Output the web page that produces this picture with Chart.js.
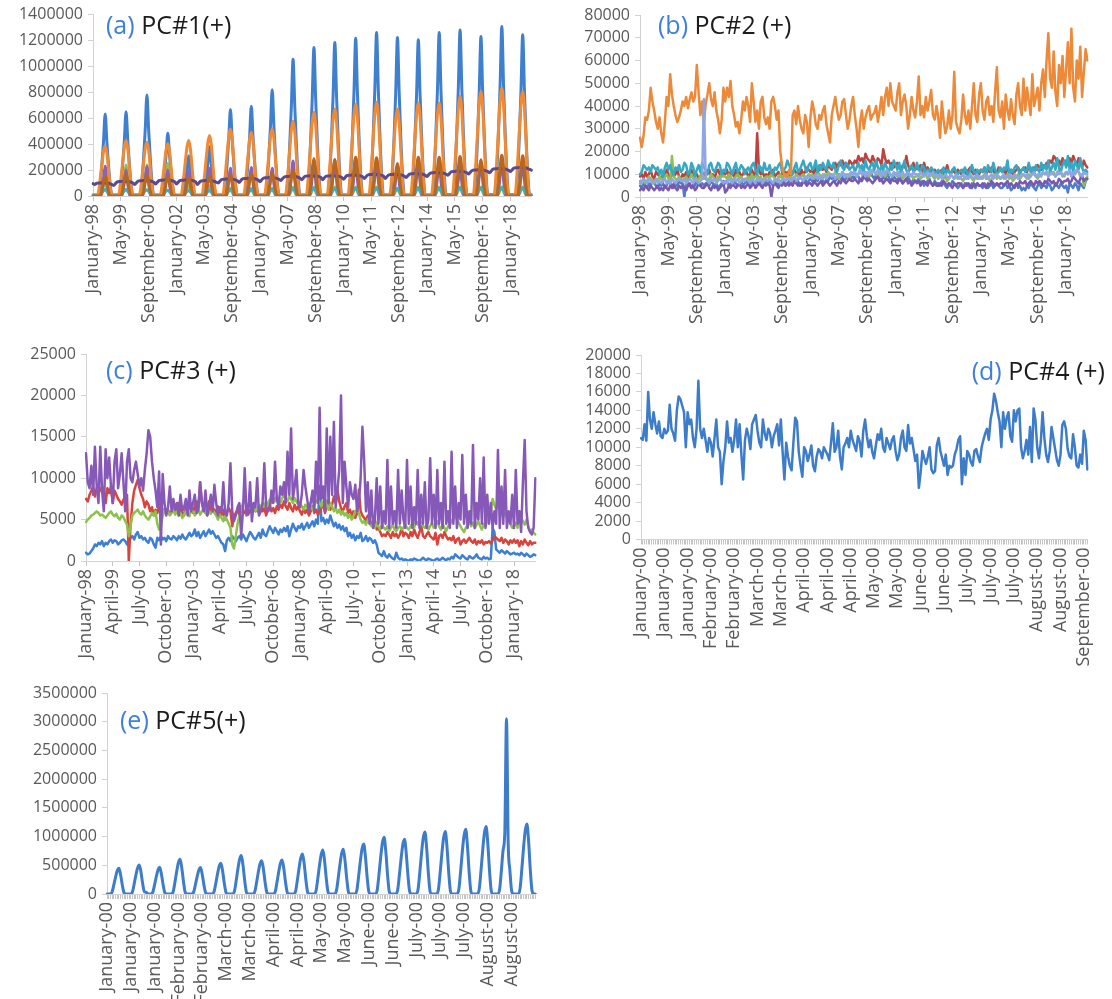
<!DOCTYPE html>
<html>
<head>
<meta charset="utf-8">
<script src="https://cdn.jsdelivr.net/npm/chart.js@4.4.1/dist/chart.umd.min.js"></script>
<style>
  body { margin: 0; background: #fff; width: 1112px; height: 999px; position: relative; overflow: hidden; font-family: 'Open Sans', sans-serif; }
  canvas { position: absolute; }
  .ttl { position: absolute; font-size: 25px; line-height: 25px; color: #1c1c1c; white-space: pre; }
  .ttl b { font-weight: normal; color: #3d7fdb; }
</style>
</head>
<body>
<canvas id="pa" width="556" height="335" style="left:0;top:0"></canvas>
<canvas id="pb" width="556" height="335" style="left:556px;top:0"></canvas>
<canvas id="pc" width="560" height="337" style="left:0;top:338px"></canvas>
<canvas id="pd" width="556" height="342" style="left:556px;top:338px"></canvas>
<canvas id="pe" width="560" height="321" style="left:0;top:678px"></canvas>

<div class="ttl" style="left:106px;top:12px"><b>(a)</b> PC#1(+)</div>
<div class="ttl" style="left:658px;top:12px"><b>(b)</b> PC#2 (+)</div>
<div class="ttl" style="left:106px;top:357px"><b>(c)</b> PC#3 (+)</div>
<div class="ttl" style="right:7px;top:358px"><b>(d)</b> PC#4 (+)</div>
<div class="ttl" style="left:120px;top:707px"><b>(e)</b> PC#5(+)</div>

<script>
// tick labels shown under each panel (one every `step` points)
const ticksAB = ['January-98', 'May-99', 'September-00', 'January-02', 'May-03', 'September-04', 'January-06', 'May-07',
  'September-08', 'January-10', 'May-11', 'September-12', 'January-14', 'May-15', 'September-16', 'January-18'];
const ticksC = ['January-98', 'April-99', 'July-00', 'October-01', 'January-03', 'April-04', 'July-05', 'October-06',
  'January-08', 'April-09', 'July-10', 'October-11', 'January-13', 'April-14', 'July-15', 'October-16', 'January-18'];
const ticksD = ['January-00', 'January-00', 'January-00', 'February-00', 'February-00', 'March-00', 'March-00', 'April-00',
  'April-00', 'April-00', 'May-00', 'May-00', 'June-00', 'June-00', 'July-00', 'July-00', 'July-00', 'August-00',
  'August-00', 'September-00'];
const ticksE = ['January-00', 'January-00', 'January-00', 'February-00', 'February-00', 'March-00', 'March-00', 'April-00',
  'April-00', 'May-00', 'May-00', 'June-00', 'June-00', 'July-00', 'July-00', 'July-00', 'August-00', 'August-00'];

// (a) PC#1, monthly Jan 1998 - Jan 2019, thousands
const pc1Blue = [
  0,0,0,0,76,222,411,633,411,222,76,0,
  0,0,0,0,78,228,423,651,423,228,78,0,
  0,0,0,0,93,273,506,779,506,273,93,0,
  0,0,0,0,58,170,315,485,315,170,58,0,
  0,0,0,0,37,109,202,310,202,109,37,0,
  0,0,0,0,46,133,247,380,247,133,46,0,
  0,0,0,0,80,233,434,667,434,233,80,0,
  0,0,0,0,83,242,450,692,450,242,83,0,
  0,0,0,0,98,287,533,820,533,287,98,0,
  0,0,0,0,127,370,686,1056,686,370,127,0,
  0,0,0,0,138,401,745,1146,745,401,138,0,
  0,0,0,0,142,415,770,1185,770,415,142,0,
  0,0,0,0,146,426,792,1218,792,426,146,0,
  0,0,0,0,151,442,820,1262,820,442,151,0,
  0,0,0,0,147,428,795,1223,795,428,147,0,
  0,0,0,0,145,422,783,1205,783,422,145,0,
  0,0,0,0,151,442,820,1262,820,442,151,0,
  0,0,0,0,154,449,833,1282,833,449,154,0,
  0,0,0,0,148,431,800,1231,800,431,148,0,
  0,0,0,0,157,458,850,1308,850,458,157,0,
  0,0,0,0,149,435,809,1244,809,435,149,0,
  0];
const pc1Orange = [
  0,0,0,19,116,231,339,385,327,193,58,0,
  0,0,0,21,128,257,377,428,364,214,64,0,
  0,0,0,21,125,249,365,415,353,208,62,0,
  0,0,0,20,121,242,355,403,343,202,60,0,
  0,0,0,21,128,257,377,428,364,214,64,0,
  0,0,0,23,140,280,411,467,397,234,70,0,
  0,0,0,26,155,311,456,518,440,259,78,0,
  0,0,0,25,148,295,433,492,418,246,74,0,
  0,0,0,26,155,311,456,518,440,259,78,0,
  0,0,0,29,173,346,508,577,490,289,87,0,
  0,0,0,32,194,388,568,646,549,323,97,0,
  0,0,0,34,202,403,591,672,571,336,101,0,
  0,0,0,36,213,426,625,710,604,355,107,0,
  0,0,0,36,217,434,636,723,615,362,108,0,
  0,0,0,34,202,403,591,672,571,336,101,0,
  0,0,0,36,215,431,632,718,610,359,108,0,
  0,0,0,36,215,431,632,718,610,359,108,0,
  0,0,0,39,231,462,678,770,655,385,116,0,
  0,0,0,40,242,483,708,805,684,403,121,0,
  0,0,0,42,249,499,731,831,706,416,125,0,
  0,0,0,40,242,483,708,805,684,403,121,0,
  0];
const pc1Indigo = [
  95,88,97,100,100,102,100,100,100,98,94,88,
  82,97,109,112,112,114,112,112,112,110,106,100,
  88,103,115,118,118,120,118,118,118,116,112,106,
  92,107,119,122,122,124,122,122,122,120,116,110,
  92,107,119,122,122,124,122,122,122,120,116,110,
  88,103,115,118,118,120,118,118,118,116,112,106,
  100,115,127,130,130,132,130,130,130,128,124,118,
  105,120,132,135,135,137,135,135,135,133,129,123,
  110,125,137,140,140,142,140,140,140,138,134,128,
  120,135,147,150,150,152,150,150,150,148,144,138,
  125,140,152,155,155,157,155,155,155,153,149,143,
  125,140,152,155,155,157,155,155,155,153,149,143,
  130,145,157,160,160,162,160,160,160,158,154,148,
  135,150,162,165,165,167,165,165,165,163,159,153,
  135,150,162,165,165,167,165,165,165,163,159,153,
  142,157,169,172,172,174,172,172,172,170,166,160,
  150,165,177,180,180,182,180,180,180,178,174,168,
  160,175,187,190,190,192,190,190,190,188,184,178,
  170,185,197,200,200,202,200,200,200,198,194,188,
  180,195,207,210,210,212,210,210,210,208,204,198,
  188,203,215,218,218,220,218,218,218,216,212,206,
  200];
const pc1Purple = [
  0,0,0,0,0,25,125,230,105,10,0,0,
  0,0,0,0,0,20,110,200,90,10,0,0,
  0,0,0,0,0,25,125,225,100,10,0,0,
  0,0,0,0,0,20,110,200,90,10,0,0,
  0,0,0,0,0,20,110,200,90,10,0,0,
  0,0,0,0,0,20,120,215,95,10,0,0,
  0,0,0,0,0,20,120,215,95,10,0,0,
  0,0,0,0,0,20,120,220,100,10,0,0,
  0,0,0,0,0,20,120,215,95,10,0,0,
  0,0,0,0,0,25,150,270,120,15,0,0,
  0,0,0,0,0,25,145,260,115,15,0,0,
  0,0,0,0,0,30,155,280,125,15,0,0,
  0,0,0,0,0,30,160,290,130,15,0,0,
  0,0,0,0,0,25,150,270,120,15,0,0,
  0,0,0,0,0,25,130,240,110,10,0,0,
  0,0,0,0,0,25,140,250,110,10,0,0,
  0,0,0,0,0,25,145,260,115,15,0,0,
  0,0,0,0,0,25,125,230,105,10,0,0,
  0,0,0,0,0,25,150,270,120,15,0,0,
  0,0,0,0,0,30,155,280,125,15,0,0,
  0,0,0,0,0,25,150,270,120,15,0,0,
  0];
const pc1Brown = [
  0,0,0,0,0,30,105,150,105,30,0,0,
  0,0,0,0,0,35,120,170,120,35,0,0,
  0,0,0,0,0,30,110,160,110,30,0,0,
  0,0,0,0,0,30,105,150,105,30,0,0,
  0,0,0,0,0,30,100,140,100,30,0,0,
  0,0,0,0,0,30,105,150,105,30,0,0,
  0,0,0,0,0,30,110,160,110,30,0,0,
  0,0,0,0,0,35,120,170,120,35,0,0,
  0,0,0,0,0,35,125,180,125,35,0,0,
  0,0,0,0,0,40,140,200,140,40,0,0,
  0,0,0,0,0,60,205,290,205,60,0,0,
  0,0,0,0,0,55,195,280,195,55,0,0,
  0,0,0,0,0,60,210,300,210,60,0,0,
  0,0,0,0,0,60,205,295,205,60,0,0,
  0,0,0,0,0,50,175,250,175,50,0,0,
  0,0,0,0,0,60,210,300,210,60,0,0,
  0,0,0,0,0,60,210,300,210,60,0,0,
  0,0,0,0,0,60,215,305,215,60,0,0,
  0,0,0,0,0,55,195,280,195,55,0,0,
  0,0,0,0,0,65,220,315,220,65,0,0,
  0,0,0,0,0,60,215,310,215,60,0,0,
  0];
const pc1Teal = [
  10,10,10,10,15,25,40,50,35,20,10,10,
  10,10,10,10,15,25,40,50,35,20,10,10,
  10,10,10,10,15,25,40,48,35,20,10,10,
  10,10,10,10,15,25,38,45,32,18,10,10,
  8,8,8,8,12,22,35,42,30,18,8,8,
  8,8,8,8,12,22,35,42,30,18,8,8,
  10,10,10,10,15,25,40,50,35,20,10,10,
  10,10,10,10,15,25,40,50,35,20,10,10,
  10,10,10,10,15,25,42,52,36,20,10,10,
  10,10,10,12,18,30,45,55,40,20,12,10,
  10,10,10,12,18,30,45,58,40,20,12,10,
  10,10,10,12,18,30,45,58,40,20,12,10,
  10,10,10,12,18,30,48,60,42,22,12,10,
  10,10,10,12,18,30,48,60,42,22,12,10,
  10,10,10,12,18,30,45,55,40,20,12,10,
  10,10,10,12,18,30,48,60,42,22,12,10,
  10,10,10,12,18,30,48,60,42,22,12,10,
  12,12,12,14,20,32,50,62,44,22,12,12,
  12,12,12,14,20,32,50,62,44,22,12,12,
  12,12,12,14,20,32,50,65,45,24,12,12,
  12,12,12,14,20,32,50,62,44,22,12,12,
  12];
const pc1Green = [
  0,0,0,0,0,25,75,120,60,10,0,0,
  0,0,0,0,0,50,145,240,120,25,0,0,
  0,0,0,0,0,50,145,240,120,25,0,0,
  0,0,0,0,0,50,150,250,125,25,0,0,
  0,0,0,0,0,20,60,100,50,10,0,0,
  0,0,0,0,0,15,50,80,40,10,0,0,
  0,0,0,0,0,15,40,60,30,5,0,0,
  0,0,0,0,0,15,40,60,30,5,0,0,
  0,0,0,0,0,15,40,60,30,5,0,0,
  0,0,0,0,0,15,45,70,35,5,0,0,
  0,0,0,0,0,15,45,70,35,5,0,0,
  0,0,0,0,0,15,45,70,35,5,0,0,
  0,0,0,0,0,15,45,70,35,5,0,0,
  0,0,0,0,0,15,45,70,35,5,0,0,
  0,0,0,0,0,15,40,60,30,5,0,0,
  0,0,0,0,0,15,45,70,35,5,0,0,
  0,0,0,0,0,15,45,70,35,5,0,0,
  0,0,0,0,0,15,45,70,35,5,0,0,
  0,0,0,0,0,15,45,70,35,5,0,0,
  0,0,0,0,0,15,45,70,35,5,0,0,
  0,0,0,0,0,15,45,70,35,5,0,0,
  0];

// (b) PC#2, monthly Jan 1998 - Jan 2019, thousands
const pc2Orange = [
  26,22,27,35,34,38,48,42,38,33,30,35,
  28,24,33,44,40,54,45,40,36,33,35,38,
  42,40,44,39,43,46,42,44,58,46,36,42,
  32,41,45,50,43,40,46,38,34,28,34,48,
  42,48,44,51,40,36,31,33,28,34,42,38,
  44,40,33,50,42,33,38,30,42,44,35,32,
  35,30,42,44,40,34,38,20,14,10,9,8,
  12,10,36,38,32,40,34,30,28,36,33,22,
  35,42,38,32,30,36,34,38,40,32,28,24,
  36,40,44,38,34,36,42,43,36,30,34,40,
  44,36,30,22,33,38,30,35,38,40,34,36,
  37,40,33,38,44,36,44,48,40,50,42,40,
  38,46,50,36,42,45,40,30,36,44,38,35,
  42,53,36,40,35,44,38,42,47,36,34,40,
  35,26,42,34,28,31,38,30,36,55,33,30,
  28,34,45,36,32,38,30,40,50,36,33,45,
  50,38,34,42,44,36,40,33,46,57,38,35,
  42,30,45,38,34,43,36,32,45,50,40,36,
  52,38,48,42,36,54,40,44,48,38,50,56,
  44,60,72,52,48,64,46,40,58,50,62,44,
  56,68,50,74,48,42,60,52,66,44,55,65,
  60];
const pc2Teal = [
  10,11,14,13,12,13,11,14,13,12,13,10,
  12,9,13,15,12,14,11,10,13,12,14,11,
  12,15,14,10,11,15,13,9,12,14,11,15,
  13,12,10,14,15,12,11,13,15,14,10,12,
  11,15,14,12,10,13,15,11,12,14,13,10,
  12,13,11,14,15,12,10,14,13,11,15,12,
  12,14,11,10,13,12,14,15,11,12,13,16,
  14,12,10,13,15,11,12,14,16,13,11,14,
  15,12,13,16,11,14,12,15,13,12,16,14,
  13,15,12,11,14,16,13,12,15,14,12,13,
  14,11,13,15,12,14,11,16,13,12,14,15,
  12,16,13,11,14,12,15,13,10,14,12,16,
  14,12,15,11,13,16,12,10,13,14,11,12,
  15,12,11,14,13,10,12,11,13,12,10,11,
  12,10,11,13,9,12,11,10,12,13,11,10,
  11,12,10,13,11,9,12,14,11,10,12,11,
  12,11,13,10,14,12,11,15,12,10,11,13,
  11,13,12,16,10,12,11,13,14,12,10,12,
  13,11,12,15,11,13,10,14,12,11,15,12,
  14,12,16,11,13,15,12,17,13,11,14,16,
  13,18,12,15,11,16,14,12,17,13,11,12,
  11];
const pc2Red = [
  9,10,8,11,9,10,12,9,8,11,10,9,
  8,10,9,12,10,8,11,9,10,12,9,8,
  10,9,11,8,10,12,9,11,10,8,9,11,
  9,11,10,12,9,10,8,11,12,10,9,11,
  10,12,9,11,10,9,12,10,11,9,10,12,
  11,9,10,12,10,9,28,12,10,11,9,10,
  9,11,10,12,9,10,11,9,10,12,10,11,
  10,9,11,12,10,11,9,12,10,11,13,12,
  11,12,10,13,11,12,14,12,13,11,14,13,
  12,14,15,13,15,14,16,14,15,13,16,15,
  14,16,15,18,16,17,15,19,17,16,15,18,
  16,15,17,16,14,21,17,15,16,14,15,13,
  14,15,13,12,14,13,18,14,12,13,15,12,
  13,12,14,11,15,12,13,11,12,10,12,11,
  10,11,12,10,11,14,11,10,12,11,10,12,
  11,10,12,11,10,12,13,11,10,12,11,10,
  12,11,13,10,12,11,13,12,10,11,13,12,
  11,12,10,13,11,12,10,11,12,13,11,12,
  12,13,11,14,12,11,13,12,14,13,12,14,
  13,15,14,16,15,18,17,15,16,14,17,15,
  16,14,17,15,18,16,14,17,15,13,16,14,
  13];
const pc2Green = [
  6,7,8,6,7,9,8,7,6,8,7,9,
  8,7,9,10,8,7,18,9,8,7,9,8,
  7,8,9,7,8,10,8,9,7,8,9,10,
  8,9,7,8,10,9,8,7,9,8,10,9,
  9,8,10,9,7,8,9,10,8,9,7,8,
  8,9,7,10,8,9,10,8,9,7,8,9,
  9,8,10,9,8,7,9,10,8,9,10,8,
  8,9,7,8,10,9,8,9,10,8,9,10,
  9,10,8,9,11,10,9,8,10,9,11,10,
  10,9,11,10,8,9,11,10,9,10,8,11,
  10,11,9,10,12,10,9,11,10,9,10,12,
  11,10,9,11,10,12,9,10,11,10,9,10,
  10,9,11,10,8,9,10,11,9,10,8,9,
  9,10,8,9,11,10,8,9,10,9,8,10,
  8,9,10,8,9,7,8,10,9,8,9,8,
  9,8,7,9,8,10,9,8,7,9,8,9,
  8,9,10,8,9,7,8,9,10,8,9,8,
  9,8,9,10,8,9,7,8,9,10,8,9,
  10,9,8,10,9,11,10,9,8,10,9,11,
  10,11,9,12,10,11,9,10,12,11,10,9,
  11,10,12,9,11,10,12,11,9,10,5,8,
  9];
const pc2Purple = [
  3,4,3,5,4,3,5,4,3,4,5,3,
  4,3,5,4,3,5,4,6,4,3,5,4,
  5,4,3,5,6,4,5,3,4,6,5,4,
  4,5,6,4,3,5,4,5,3,4,5,6,
  2,3,5,4,6,5,4,5,6,4,5,4,
  5,6,4,5,6,4,5,6,5,4,6,5,
  6,5,0,5,6,5,4,6,5,6,5,6,
  5,6,5,7,6,5,6,5,7,6,5,6,
  6,5,7,6,5,6,7,5,6,7,6,5,
  6,7,6,5,7,6,8,7,6,7,8,7,
  7,8,7,6,8,7,9,8,7,8,7,6,
  7,8,9,7,8,6,7,8,7,6,8,7,
  7,6,8,7,6,7,8,6,7,5,6,7,
  6,7,5,6,7,6,5,7,6,5,6,5,
  5,6,5,7,6,5,6,5,4,6,5,6,
  6,5,4,6,5,6,5,4,6,5,6,5,
  5,6,5,4,6,5,7,6,5,6,5,6,
  6,5,6,7,5,6,5,4,6,5,7,6,
  6,7,5,6,7,6,5,7,6,7,6,5,
  7,6,8,7,6,7,5,6,8,7,6,7,
  7,8,6,7,9,8,7,6,8,9,7,8,
  8];
const pc2Blue = [
  5,4,6,5,4,6,5,7,6,5,4,6,
  5,6,4,5,7,6,5,4,6,5,7,6,
  6,0,7,6,5,4,6,5,7,6,5,6,
  5,6,6,5,7,6,5,6,4,5,6,7,
  6,7,5,6,5,7,6,5,6,7,5,6,
  7,6,5,7,6,5,8,6,7,5,6,7,
  6,7,6,5,7,6,5,7,6,7,5,6,
  7,6,8,7,6,7,5,6,7,8,6,7,
  8,7,6,8,7,9,8,7,6,8,7,9,
  8,9,7,8,10,8,9,7,8,9,10,8,
  9,8,10,9,7,8,10,9,8,9,11,9,
  8,10,9,8,7,9,8,10,9,7,8,9,
  8,7,9,8,6,7,8,9,7,6,8,7,
  7,8,6,7,5,6,7,8,6,5,7,6,
  6,5,7,6,5,4,6,5,7,6,5,4,
  5,6,4,5,6,5,4,6,5,4,6,5,
  5,4,6,5,4,5,6,4,5,6,5,4,
  4,5,6,4,5,3,4,5,6,4,5,3,
  4,3,5,4,6,5,4,3,5,6,4,5,
  5,4,6,5,3,4,6,5,4,6,5,4,
  5,2,6,5,4,6,5,3,6,5,4,7,
  8];
const pc2Lavender = [
  7,6,8,7,6,8,7,6,7,8,6,7,
  6,7,8,6,7,6,8,7,6,7,8,7,
  7,8,6,7,8,7,6,8,7,6,7,8,
  43,8,7,6,8,7,8,6,7,8,7,6,
  7,6,8,7,6,8,7,8,6,7,8,7,
  8,7,6,8,7,6,8,7,8,6,7,8,
  7,8,7,6,8,7,8,6,7,8,7,8,
  8,7,8,9,7,8,9,8,7,9,8,9,
  9,8,9,10,8,9,8,10,9,8,9,10,
  9,10,8,9,10,9,11,9,10,9,10,11,
  10,11,9,10,12,10,11,9,11,10,12,11,
  11,10,12,11,9,11,10,12,11,10,9,11,
  10,11,9,10,11,9,10,11,10,9,11,10,
  10,9,11,10,9,10,11,9,10,11,9,10,
  9,10,8,9,10,9,8,10,9,8,10,9,
  8,9,10,8,9,8,10,9,8,9,10,8,
  9,8,9,10,8,9,10,8,9,10,9,8,
  9,10,8,9,10,9,8,10,9,8,9,10,
  10,9,10,8,9,10,11,9,10,9,10,11,
  10,11,9,10,11,10,9,11,10,11,9,10,
  11,10,12,9,11,10,12,11,10,9,11,10,
  10];

// (c) PC#3, monthly Jan 1998 - Jan 2019, hundreds
const pc3Purple = [
  130,95,88,115,80,138,90,70,138,85,60,135,
  100,125,90,70,120,135,88,105,130,95,60,120,
  135,100,95,110,120,105,90,100,85,110,130,158,
  150,120,100,85,65,108,20,105,70,55,65,90,
  60,75,62,70,55,80,60,65,75,55,85,60,
  70,80,58,62,95,70,60,85,55,65,80,60,
  92,70,55,65,60,95,58,55,70,118,60,48,
  55,65,70,30,60,112,55,60,95,48,70,65,
  100,55,60,70,118,65,60,62,85,70,120,75,
  65,90,80,95,70,132,80,160,75,90,110,70,
  65,80,110,90,75,60,70,85,60,120,70,185,
  75,90,60,160,70,150,80,168,65,85,110,200,
  70,120,90,65,95,80,75,92,60,70,100,162,
  120,60,95,45,85,40,50,100,45,90,40,60,
  45,122,40,90,45,60,40,110,45,85,50,40,
  122,45,90,40,65,45,110,40,80,45,95,40,
  50,124,45,80,40,110,45,70,40,120,45,60,
  40,132,45,90,40,70,50,128,45,80,40,60,
  45,140,40,70,50,100,45,125,40,80,45,70,
  40,60,45,134,40,90,45,110,40,60,45,80,
  40,110,45,60,35,95,146,60,40,35,32,40,
  100];
const pc3Red = [
  75,72,80,85,90,78,88,82,86,90,85,70,
  88,82,90,70,85,80,75,72,68,74,78,80,
  0,45,70,85,92,98,88,80,75,65,72,68,
  60,65,55,62,58,66,60,55,63,58,62,56,
  60,64,58,66,70,62,58,55,64,60,68,62,
  58,66,72,64,95,70,62,58,66,72,60,64,
  62,58,66,60,55,62,50,58,64,60,42,55,
  58,62,55,66,60,58,64,56,62,58,65,60,
  62,58,66,60,64,55,62,68,60,64,58,66,
  62,68,64,72,66,62,70,64,60,68,62,66,
  60,56,64,58,62,55,60,66,58,62,56,60,
  64,70,58,66,74,62,68,78,70,86,72,64,
  60,66,70,58,62,55,60,52,58,86,60,55,
  52,48,55,50,45,42,50,38,40,35,30,32,
  30,35,32,28,35,30,33,28,32,40,30,34,
  32,28,35,30,38,32,28,35,42,30,28,32,
  35,30,28,26,34,20,30,32,28,35,30,26,
  28,25,30,22,26,28,20,24,26,22,25,28,
  24,22,26,20,24,22,25,20,23,22,24,21,
  25,30,28,26,24,28,22,26,24,20,25,22,
  26,22,25,18,24,20,26,22,19,24,20,22,
  22];
const pc3Green = [
  47,50,52,55,56,58,60,58,55,56,54,52,
  55,58,60,56,54,57,52,50,55,53,48,44,
  30,42,55,58,60,62,58,56,60,55,52,50,
  54,58,55,60,45,38,42,55,62,58,60,55,
  58,62,56,60,55,58,52,56,60,58,54,62,
  60,55,58,62,56,60,64,58,55,60,57,62,
  58,55,50,56,52,48,54,50,45,40,20,15,
  30,45,55,60,70,72,68,65,70,62,66,60,
  62,68,64,70,66,72,68,74,70,76,72,78,
  74,70,76,80,74,72,78,75,70,76,72,68,
  70,66,62,68,64,70,66,62,68,72,74,70,
  66,72,75,68,62,70,66,60,64,58,62,56,
  60,55,58,52,56,50,54,60,62,58,50,46,
  48,44,50,46,42,45,40,46,42,38,44,40,
  38,42,36,40,44,38,36,40,42,38,40,44,
  40,38,42,45,40,48,44,50,46,42,40,44,
  38,42,46,40,44,48,42,38,45,40,36,42,
  44,48,52,55,50,46,42,38,35,40,44,48,
  42,46,40,44,48,42,38,45,42,48,52,60,
  75,68,62,70,64,60,55,58,52,48,45,40,
  42,46,40,58,52,48,44,50,42,36,38,34,
  32];
const pc3Blue = [
  10,8,9,12,15,20,18,22,20,24,18,22,
  20,24,26,22,25,24,20,22,25,26,24,20,
  22,28,30,26,32,35,28,30,26,28,24,22,
  28,26,20,16,28,25,30,26,28,24,30,27,
  26,30,28,25,30,27,32,28,26,30,34,30,
  32,38,30,35,28,32,36,30,34,38,33,36,
  32,28,30,26,22,20,12,25,28,24,30,27,
  24,28,30,26,32,28,24,30,35,32,28,26,
  30,34,28,38,32,30,36,42,38,34,40,36,
  32,38,35,40,36,42,30,38,45,40,36,42,
  40,45,38,42,46,40,44,48,42,50,45,91,
  48,52,45,50,46,55,48,42,46,40,44,38,
  42,36,40,30,34,28,32,25,30,28,34,24,
  26,30,24,28,26,22,25,20,10,8,6,12,
  6,4,8,5,3,2,10,4,2,3,1,2,
  1,0,2,1,3,2,1,0,2,4,2,1,
  3,2,1,0,2,3,1,2,4,2,1,3,
  2,5,3,8,6,4,3,7,5,3,2,6,
  4,3,5,8,4,3,2,5,3,4,2,3,
  40,35,14,12,10,13,11,9,12,10,8,9,
  10,8,9,7,10,8,6,9,7,5,6,8,
  7];

// (d) PC#4, 250 points, hundreds
const pc4Blue = [
  110,108,125,107,160,130,120,138,125,115,
  128,112,110,120,115,118,146,120,115,107,
  140,155,152,145,138,100,138,125,130,110,
  100,120,172,120,110,120,108,95,110,105,
  90,110,130,100,95,60,85,100,128,105,
  110,95,108,130,100,125,92,65,108,120,
  112,98,125,130,135,118,105,100,130,115,
  108,120,115,100,112,118,125,102,130,95,
  65,105,90,80,75,105,132,128,95,80,
  68,100,96,85,92,102,80,74,90,98,
  95,88,100,96,92,86,105,126,95,100,
  118,90,76,100,104,110,100,118,108,102,
  96,112,106,90,118,130,112,100,108,95,
  88,102,114,108,120,100,95,110,104,98,
  108,112,96,86,92,110,118,100,96,124,
  104,110,98,85,92,56,73,96,88,82,
  90,100,76,72,74,102,110,96,88,80,
  92,70,80,78,80,92,98,108,112,60,
  88,70,96,92,84,80,96,98,90,84,
  100,108,115,120,108,130,140,158,150,138,
  128,100,138,120,132,138,112,106,140,128,
  140,142,100,88,96,108,92,122,84,142,
  130,100,88,106,138,110,92,84,96,122,
  110,98,86,80,92,124,128,120,98,90,
  88,114,100,80,78,92,82,118,108,76];

// (e) PC#5, monthly, 253 points, thousands
const pc5Blue = [
  0,0,0,36,157,291,403,448,336,157,22,0,
  0,0,0,40,177,329,455,506,380,177,40,30,
  0,0,0,37,163,302,419,465,349,163,23,0,
  0,0,0,48,212,393,545,605,454,212,30,0,
  0,0,0,37,161,299,414,460,345,161,23,0,
  0,0,0,43,187,348,482,535,401,187,27,0,
  0,0,0,54,234,435,602,669,502,234,33,0,
  0,0,0,46,203,378,523,581,436,203,29,0,
  0,0,0,47,208,385,534,593,445,208,30,0,
  0,0,0,56,244,454,628,698,524,244,35,0,
  0,0,0,61,268,499,690,767,575,268,38,0,
  0,0,0,62,273,506,701,779,584,273,39,0,
  0,0,0,70,305,567,785,872,654,305,44,0,
  0,0,0,79,346,642,889,988,741,346,49,0,
  0,0,0,76,334,619,858,953,715,334,48,0,
  0,0,0,86,378,703,973,1081,811,378,54,0,
  0,0,0,87,380,707,978,1087,815,380,54,0,
  0,0,0,90,395,733,1015,1128,846,395,56,0,
  0,0,0,94,411,763,1057,1174,881,411,59,0,
  0,0,0,94,413,767,1062,3050,885,413,59,0,
  0,0,0,98,427,794,1099,1221,916,427,61,0,
  0];

const xFont = { family: "'Open Sans', sans-serif", size: 18 };
const yFont = { family: "'Open Sans', sans-serif", size: 16 };
const axisGray = '#d2d2d2';

function drawPanel(id, box, lines, yMax, yStep, tickLabels, step, dense, smooth, unit) {
  const n = lines[0].values.length;
  const categories = Array.from({ length: n }, (_, i) => i);
  new Chart(document.getElementById(id), {
    type: 'line',
    data: {
      labels: categories,
      datasets: lines.map(l => ({
        data: l.values.map(v => v * unit),
        borderColor: l.color,
        borderWidth: smooth ? 3 : 2.5,
        pointRadius: 0,
        fill: false,
        tension: smooth ? 0.4 : 0,
        cubicInterpolationMode: smooth ? 'monotone' : 'default',
        borderJoinStyle: 'round',
        borderCapStyle: 'round'
      }))
    },
    options: {
      responsive: false,
      animation: false,
      devicePixelRatio: 1,
      layout: { padding: { left: 0, top: box.top, right: box.right, bottom: 0 } },
      plugins: { legend: { display: false }, tooltip: { enabled: false } },
      scales: {
        x: {
          ticks: {
            autoSkip: false, minRotation: 90, maxRotation: 90, padding: 3,
            color: '#595959', font: xFont,
            callback: (v, i) => (i % step === 0 && tickLabels[i / step]) ? tickLabels[i / step] : ''
          },
          grid: {
            drawOnChartArea: false, tickLength: 5,
            tickColor: ctx => (dense || ctx.index % step === 0) ? '#c4c4c4' : 'rgba(0,0,0,0)'
          },
          border: { color: axisGray },
          afterFit: s => { s.height = box.xh; }
        },
        y: {
          min: 0, max: yMax,
          ticks: { stepSize: yStep, autoSkip: false, padding: 5, color: '#595959', font: yFont, callback: v => String(v) },
          grid: { drawOnChartArea: false, tickLength: 5, tickColor: axisGray },
          border: { color: axisGray },
          afterFit: s => { s.width = box.yw; }
        }
      }
    }
  });
}

drawPanel('pa', { yw: 93, top: 14, right: 11, xh: 139 }, [
  { values: pc1Brown, color: '#b8681e' },
  { values: pc1Indigo, color: '#5b4a8f' },
  { values: pc1Orange, color: '#f08a34' },
  { values: pc1Teal, color: '#3aaec8' },
  { values: pc1Purple, color: '#8a62b8' },
  { values: pc1Green, color: '#93c054' },
  { values: pc1Blue, color: '#3f7fd0' }
], 1400000, 200000, ticksAB, 16, false, true, 1000);

drawPanel('pb', { yw: 84, top: 15, right: 4, xh: 138 }, [
  { values: pc2Lavender, color: '#8ea6e6' },
  { values: pc2Orange, color: '#ec8a3a' },
  { values: pc2Teal, color: '#34a9c4' },
  { values: pc2Purple, color: '#7a58b0' },
  { values: pc2Green, color: '#8fbf4f' },
  { values: pc2Red, color: '#c0403c' },
  { values: pc2Blue, color: '#4a7fc8' }
], 80000, 10000, ticksAB, 16, false, false, 1000);

drawPanel('pc', { yw: 86, top: 16, right: 6, xh: 114 }, [
  { values: pc3Purple, color: '#8658b8' },
  { values: pc3Green, color: '#8cc24a' },
  { values: pc3Red, color: '#d8433b' },
  { values: pc3Blue, color: '#3c7fd3' }
], 25000, 5000, ticksC, 15, false, false, 100);

drawPanel('pd', { yw: 85, top: 17, right: 2, xh: 140.5 }, [
  { values: pc4Blue, color: '#3d7cc9' }
], 20000, 2000, ticksD, 13, true, false, 100);

drawPanel('pe', { yw: 107, top: 15, right: 7, xh: 105 }, [
  { values: pc5Blue, color: '#3d7cc9' }
], 3500000, 500000, ticksE, 14, true, true, 1000);
</script>
</body>
</html>
